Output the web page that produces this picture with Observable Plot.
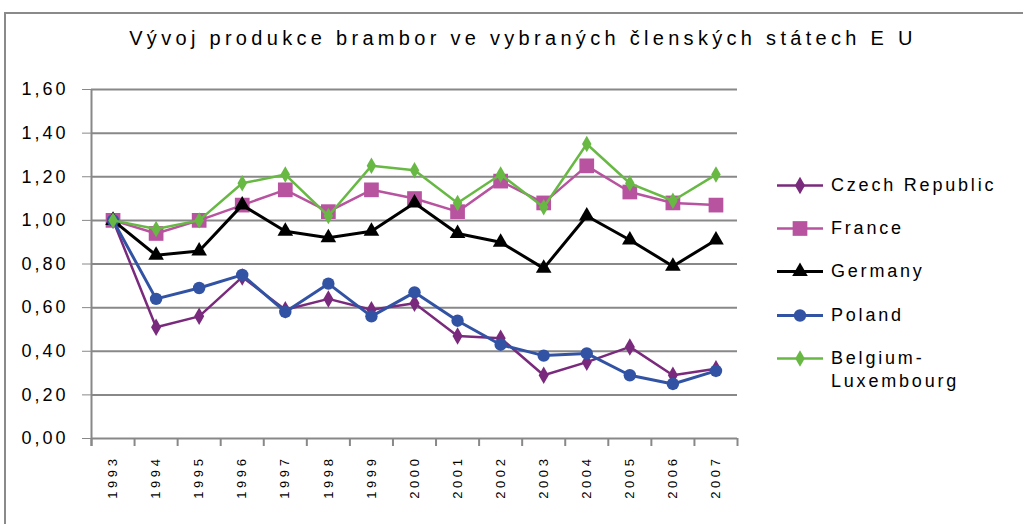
<!DOCTYPE html>
<html><head><meta charset="utf-8">
<script src="https://cdn.jsdelivr.net/npm/d3@7"></script>
<script src="https://cdn.jsdelivr.net/npm/@observablehq/plot@0.6"></script>
<style>
body{margin:0;background:#fff;}
#wrap{position:relative;width:1023px;height:524px;overflow:hidden;font-family:"Liberation Sans",Arial,sans-serif;background:#fff;}
#frame{position:absolute;left:4px;top:12px;width:1100px;height:600px;border-left:2px solid #8a8a8a;border-top:2px solid #8a8a8a;}
#title{position:absolute;left:0;width:1046px;top:27px;text-align:center;font-size:20px;letter-spacing:4.3px;color:#000;white-space:nowrap;}
#chart{position:absolute;left:0;top:0;}
#chart svg text{fill:#000;}
#chart svg [aria-label^="y-axis"] text{font-size:18px;letter-spacing:3px;}
#chart svg [aria-label^="x-axis"] text{font-size:13px;letter-spacing:3.6px;}
.leg{position:absolute;left:777px;display:flex;align-items:flex-start;}
.leg svg{flex:none;}
.leg span{margin-left:6px;font-size:18px;letter-spacing:2.8px;line-height:23px;white-space:pre;color:#000;}
</style></head>
<body>
<div id="wrap">
  <div id="frame"></div>
  <div id="title"></div>
  <div id="chart"></div>
  <div id="legend"></div>
</div>
<script>
const titleText = "Vývoj produkce brambor ve vybraných členských státech E U";
const years = [1993,1994,1995,1996,1997,1998,1999,2000,2001,2002,2003,2004,2005,2006,2007];
const yTicks = [0,0.2,0.4,0.6,0.8,1.0,1.2,1.4,1.6];
const seriesNames = ["Czech Republic","France","Germany","Poland","Belgium-Luxembourg"];
const czech   = [1.00,0.51,0.56,0.74,0.59,0.64,0.59,0.62,0.47,0.46,0.29,0.35,0.42,0.29,0.32];
const france  = [1.00,0.94,1.00,1.07,1.14,1.04,1.14,1.10,1.04,1.18,1.08,1.25,1.13,1.08,1.07];
const germany = [1.00,0.84,0.86,1.07,0.95,0.92,0.95,1.08,0.94,0.90,0.78,1.02,0.91,0.79,0.91];
const poland  = [1.00,0.64,0.69,0.75,0.58,0.71,0.56,0.67,0.54,0.43,0.38,0.39,0.29,0.25,0.31];
const belgium = [1.00,0.96,1.00,1.17,1.21,1.02,1.25,1.23,1.08,1.21,1.06,1.35,1.17,1.09,1.21];
const seriesValues = [czech, france, germany, poland, belgium];
const colors  = ["#7a2a7c","#b853a0","#000000","#3253a4","#68b944"];
const symbols = ["diamond","square","triangle","circle","diamond"];
const radii   = [5.3,8.3,5.8,6.2,5];
const widths  = [2.5,2.5,3,3,2.5];

document.getElementById("title").textContent = titleText;

const series = seriesNames.map((name, k) => ({
  name, color: colors[k], symbol: symbols[k], r: radii[k], sw: widths[k],
  rows: years.map((year, i) => ({year, value: seriesValues[k][i], name}))
}));

const W = 760, H = 524, mT = 89, mB = 86;
const pxPerUnit = (H - mT - mB) / 1.6;
const tickLen = 8 / pxPerUnit;
const bounds = d3.range(years.length + 1).map(i => years[0] - 0.5 + i);

const marks = [
  Plot.ruleY(yTicks, {stroke: "#888", strokeWidth: 2}),
  Plot.ruleX(bounds, {y1: 0, y2: -tickLen, stroke: "#888", strokeWidth: 2}),
  Plot.ruleX(bounds.slice(0, 1), {y1: -tickLen, y2: 1.6, stroke: "#888", strokeWidth: 2})
];
for (const s of series) {
  marks.push(Plot.line(s.rows, {x: "year", y: "value", stroke: s.color, strokeWidth: s.sw}));
  marks.push(Plot.dot(s.rows, {x: "year", y: "value", symbol: s.symbol, r: s.r, fill: s.color, stroke: null}));
}

const chart = Plot.plot({
  width: W, height: H,
  marginLeft: 91, marginRight: 23, marginTop: mT, marginBottom: mB,
  style: {color: "#888", background: "transparent", fontFamily: "Liberation Sans, Arial, sans-serif", overflow: "visible"},
  x: {type: "linear", domain: [years[0] - 0.5, years[years.length - 1] + 0.5], ticks: years,
      tickFormat: d => String(d), tickRotate: -90, tickSize: 0, tickPadding: 17, label: null},
  y: {domain: [0, 1.6], ticks: yTicks, tickFormat: d => d.toFixed(2).replace(".", ","),
      tickSize: 9, tickPadding: 14, label: null},
  marks
});
document.getElementById("chart").appendChild(chart);

// legend
const leg = document.getElementById("legend");
series.forEach((s, k) => {
  const div = document.createElement("div");
  div.className = "leg";
  div.style.top = (174 + k * 43.2) + "px";
  const svg = d3.create("svg").attr("width", 48).attr("height", 23);
  svg.append("line").attr("x1", 0).attr("x2", 46).attr("y1", 11.5).attr("y2", 11.5)
    .attr("stroke", s.color).attr("stroke-width", s.sw);
  const symMap = {diamond: d3.symbolDiamond, square: d3.symbolSquare, triangle: d3.symbolTriangle, circle: d3.symbolCircle};
  svg.append("path").attr("transform", "translate(23,11.5)")
    .attr("d", d3.symbol(symMap[s.symbol], Math.PI * s.r * s.r)())
    .attr("fill", s.color);
  div.appendChild(svg.node());
  const span = document.createElement("span");
  span.textContent = s.name.replace("-", "-\n");
  div.appendChild(span);
  leg.appendChild(div);
});
</script>
</body></html>
